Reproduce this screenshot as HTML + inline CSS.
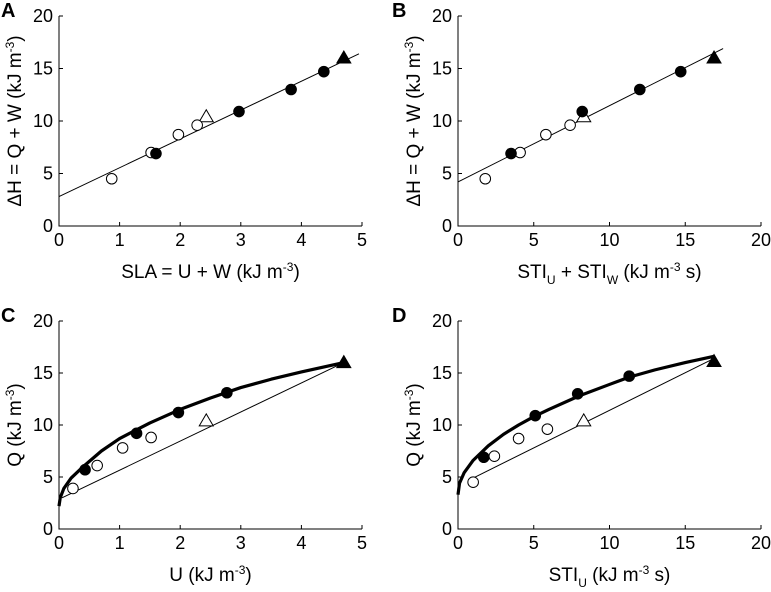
<!DOCTYPE html>
<html><head><meta charset="utf-8"><style>
html,body{margin:0;padding:0;background:#fff}
svg{display:block;font-family:"Liberation Sans",Arial,sans-serif}
</style></head><body>
<svg id="fig" width="771" height="592" viewBox="0 0 771 592" xmlns="http://www.w3.org/2000/svg"></svg>
<script>
// Panel A data
const aOpenX=[0.87,1.52,1.97,2.28], aOpenY=[4.5,7.0,8.7,9.6];
const aFillX=[1.6,2.97,3.83,4.37], aFillY=[6.9,10.9,13.0,14.7];
const aOpenTri=[2.43,10.4], aFillTri=[4.7,16.0];
const aLineX=[0,4.95], aLineY=[2.8,16.4];
// Panel B data
const bOpenX=[1.8,4.1,5.8,7.4], bOpenY=[4.5,7.0,8.7,9.6];
const bFillX=[3.5,8.2,12.0,14.7], bFillY=[6.9,10.9,13.0,14.7];
const bOpenTri=[8.3,10.4], bFillTri=[16.9,16.0];
const bLineX=[0,17.5], bLineY=[4.2,16.9];
// Panel C data
const cOpenX=[0.23,0.63,1.05,1.52], cOpenY=[3.9,6.1,7.8,8.8];
const cFillX=[0.43,1.28,1.97,2.77], cFillY=[5.7,9.2,11.2,13.1];
const cOpenTri=[2.43,10.4], cFillTri=[4.7,16.0];
const cLineX=[0.05,4.7], cLineY=[3.0,16.0];
const cCurveX=[0,0.02,0.08,0.2,0.4,0.7,1,1.5,2,2.5,3,3.5,4,4.7];
const cCurveY=[2.2,3.0,3.9,4.9,6.0,7.5,8.7,10.2,11.5,12.6,13.6,14.4,15.1,16.0];
// Panel D data
const dOpenX=[1.0,2.4,4.0,5.9], dOpenY=[4.5,7.0,8.7,9.6];
const dFillX=[1.7,5.1,7.9,11.3], dFillY=[6.9,10.9,13.0,14.7];
const dOpenTri=[8.3,10.4], dFillTri=[16.9,16.1];
const dLineX=[1.0,16.9], dLineY=[4.9,16.4];
const dCurveX=[0,0.1,0.4,1,2,3,4,5,6,8,10,11.3,13,15,16.9];
const dCurveY=[3.3,4.4,5.4,6.6,8.0,9.1,10.0,10.8,11.5,12.8,13.9,14.6,15.3,16.0,16.6];
const ticksY=[0,5,10,15,20];
const ticksX5=[0,1,2,3,4,5];
const ticksX20=[0,5,10,15,20];

const NS="http://www.w3.org/2000/svg";
const svg=document.getElementById('fig');
function mk(tag,attrs,parent){const e=document.createElementNS(NS,tag);for(const k in attrs)e.setAttribute(k,attrs[k]);(parent||svg).appendChild(e);return e;}

function panel(p){
  const g=mk('g',{});
  
  
  const sx=v=>p.x0+(v-p.xmin)/(p.xmax-p.xmin)*(p.x1-p.x0);
  const sy=v=>p.y0-(v/20)*(p.y0-p.y1);
  const ax=mk('path',{d:`M${p.x0},${p.y1}V${p.y0}H${p.x1}`,fill:'none',stroke:'#000','stroke-width':1},g);
  
  
  ticksY.forEach(t=>{
    mk('line',{x1:p.x0,x2:p.x0+4,y1:sy(t),y2:sy(t),stroke:'#000'},g);
    const tx=mk('text',{x:p.x0-6,y:sy(t)+6,'text-anchor':'end','font-size':18},g);
    tx.textContent=t;
    
    
  });
  p.ticksX.forEach(t=>{
    mk('line',{x1:sx(t),x2:sx(t),y1:p.y0,y2:p.y0-4,stroke:'#000'},g);
    const tx=mk('text',{x:sx(t),y:p.y0+20,'text-anchor':'middle','font-size':18},g);
    tx.textContent=t;
    
    
  });
  const ln=mk('line',{x1:sx(p.lx[0]),y1:sy(p.ly[0]),x2:sx(p.lx[1]),y2:sy(p.ly[1]),stroke:'#000','stroke-width':1},g);
  
  
  if(p.cx){
    const d=p.cx.map((v,i)=>(i?'L':'M')+sx(v)+','+sy(p.cy[i])).join('');
    const c=mk('path',{d:d,fill:'none',stroke:'#000','stroke-width':3.2,'stroke-linejoin':'round'},g);
    
    
  }
  const tri=(v,fill)=>{const X=sx(v[0]),Y=sy(v[1]);
    const t=mk('polygon',{points:`${X-7},${Y+5} ${X+7},${Y+5} ${X},${Y-7}`,fill:fill,stroke:'#000','stroke-width':1},g);
    
    };
  tri(p.ot,'#fff');
  p.ox.forEach((v,i)=>{const c=mk('circle',{cx:sx(v),cy:sy(p.oy[i]),r:5.3,fill:'#fff',stroke:'#000','stroke-width':1},g);
    
    });
  p.fx.forEach((v,i)=>{const c=mk('circle',{cx:sx(v),cy:sy(p.fy[i]),r:5.8,fill:'#000'},g);
    
    });
  tri(p.ft,'#000');
  const L=mk('text',{x:p.lbx,y:p.lby,'font-size':20,'font-weight':'bold'},g);L.textContent=p.id;
  
  
  const xl=mk('text',{x:(p.x0+p.x1)/2,y:p.y0+52,'text-anchor':'middle','font-size':19},g);xl.innerHTML=p.xlab;
  
  
  const cy=(p.y0+p.y1)/2;
  const yl=mk('text',{x:0,y:0,transform:`translate(${p.x0-38},${cy}) rotate(-90)`,'text-anchor':'middle','font-size':19},g);yl.innerHTML=p.ylab;
  
  
}
// helpers: superscript/subscript followed by rest text restoring baseline
const sup=(s,rest)=>`<tspan dy="-7" font-size="12">${s}</tspan><tspan dy="7">${rest}</tspan>`;
const sub=(s,rest)=>`<tspan dy="6" font-size="12">${s}</tspan><tspan dy="-6">${rest}</tspan>`;
const yH='ΔH = Q + W (kJ m'+sup('-3',')');
const yQ='Q (kJ m'+sup('-3',')');
panel({id:'A',x0:59,x1:362,y0:226,y1:16,xmin:0,xmax:5,ticksX:ticksX5,ox:aOpenX,oy:aOpenY,fx:aFillX,fy:aFillY,ot:aOpenTri,ft:aFillTri,lx:aLineX,ly:aLineY,lbx:1,lby:17,xlab:'SLA = U + W (kJ m'+sup('-3',')'),ylab:yH});
panel({id:'B',x0:458,x1:761,y0:226,y1:16,xmin:0,xmax:20,ticksX:ticksX20,ox:bOpenX,oy:bOpenY,fx:bFillX,fy:bFillY,ot:bOpenTri,ft:bFillTri,lx:bLineX,ly:bLineY,lbx:392,lby:17,xlab:'STI'+sub('U',' + STI')+sub('W',' (kJ m')+sup('-3',' s)'),ylab:yH});
panel({id:'C',x0:59,x1:362,y0:529,y1:321,xmin:0,xmax:5,ticksX:ticksX5,ox:cOpenX,oy:cOpenY,fx:cFillX,fy:cFillY,ot:cOpenTri,ft:cFillTri,lx:cLineX,ly:cLineY,cx:cCurveX,cy:cCurveY,lbx:1,lby:322,xlab:'U (kJ m'+sup('-3',')'),ylab:yQ});
panel({id:'D',x0:458,x1:761,y0:529,y1:321,xmin:0,xmax:20,ticksX:ticksX20,ox:dOpenX,oy:dOpenY,fx:dFillX,fy:dFillY,ot:dOpenTri,ft:dFillTri,lx:dLineX,ly:dLineY,cx:dCurveX,cy:dCurveY,lbx:392,lby:322,xlab:'STI'+sub('U',' (kJ m')+sup('-3',' s)'),ylab:yQ});
</script>
</body></html>
